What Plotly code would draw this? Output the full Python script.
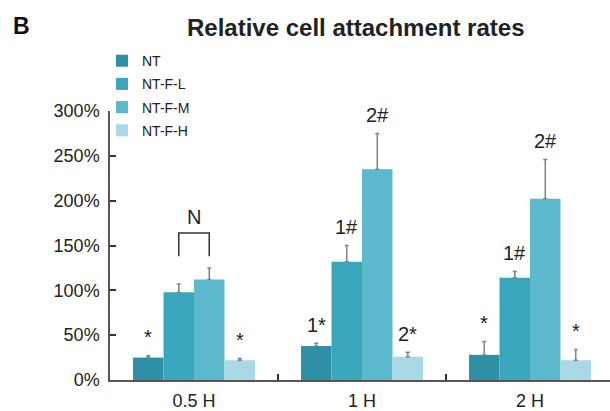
import plotly.graph_objects as go

categories = ["0.5 H", "1 H", "2 H"]
series_names = ["NT", "NT-F-L", "NT-F-M", "NT-F-H"]
values = {
    "NT": [25, 38, 28],
    "NT-F-L": [98, 132, 114],
    "NT-F-M": [112, 235, 202],
    "NT-F-H": [22, 26, 22],
}
errors = {
    "NT": [2, 3, 15],
    "NT-F-L": [9, 18, 7],
    "NT-F-M": [13, 40, 44],
    "NT-F-H": [2, 5, 12],
}
labels = {
    "NT": ["*", "1*", "*"],
    "NT-F-L": ["", "1#", "1#"],
    "NT-F-M": ["", "2#", "2#"],
    "NT-F-H": ["*", "2*", "*"],
}
colors = ["#2e8fa5", "#3aa6bd", "#5cb8cc", "#a9d9e4"]
y_ticks = [0, 50, 100, 150, 200, 250, 300]

bargap = 0.274
nser = len(series_names)
bw = (1 - bargap) / nser

fig = go.Figure()
for i, name in enumerate(series_names):
    fig.add_trace(go.Bar(
        name=name, x=categories, y=values[name], legendgroup=name,
        marker=dict(color=colors[i], line=dict(width=0)),
        error_y=dict(type="data", array=errors[name], arrayminus=[0] * len(categories),
                     symmetric=False, color="#8a7f7f", thickness=1.5, width=2),
    ))

font = "Liberation Sans, Arial, sans-serif"
annotations = []
for i, name in enumerate(series_names):
    off = (i - (nser - 1) / 2) * bw
    for j, cat in enumerate(categories):
        t = labels[name][j]
        if not t:
            continue
        annotations.append(dict(
            x=j + off, y=values[name][j] + errors[name][j] + 6, xref="x", yref="y",
            text=t, showarrow=False, yanchor="bottom",
            font=dict(family=font, size=20, color="#222")))

# "N" bracket between NT-F-L and NT-F-M at 0.5 H
x1 = 0 + (1 - 1.5) * bw
x2 = 0 + (2 - 1.5) * bw
ytop = max(values["NT-F-L"][0] + errors["NT-F-L"][0], values["NT-F-M"][0] + errors["NT-F-M"][0]) + 39
shapes = [dict(type="path", xref="x", yref="y",
               path=f"M {x1},{ytop-26} L {x1},{ytop} L {x2},{ytop} L {x2},{ytop-26}",
               line=dict(color="#333", width=1.5))]
annotations.append(dict(x=(x1 + x2) / 2, y=ytop + 3, xref="x", yref="y", text="N",
                        showarrow=False, yanchor="bottom",
                        font=dict(family=font, size=20, color="#222")))

annotations.append(dict(x=-0.177, y=1.316, xref="paper", yref="paper", text="<b>B</b>",
                        showarrow=False, xanchor="center", yanchor="middle",
                        font=dict(family=font, size=23, color="#111")))
annotations.append(dict(x=0.491, y=1.31, xref="paper", yref="paper",
                        text="<b>Relative cell attachment rates</b>",
                        showarrow=False, xanchor="center", yanchor="middle",
                        font=dict(family=font, size=24, color="#222")))

fig.update_layout(
    width=610, height=411,
    margin=dict(l=110, r=0, t=111, b=28),
    paper_bgcolor="white", plot_bgcolor="white",
    barmode="group", bargap=bargap, bargroupgap=0,
    showlegend=True,
    legend=dict(x=-0.016, y=1.245, xanchor="left", yanchor="top",
                font=dict(family=font, size=14, color="#222"),
                bgcolor="rgba(0,0,0,0)", itemwidth=30, tracegroupgap=2),
    font=dict(family=font, size=18, color="#222"),
    annotations=annotations, shapes=shapes,
    xaxis=dict(type="category", range=[-0.5, 2.476], showline=True, linecolor="#555",
               linewidth=1.5, ticks="inside", tickson="boundaries", ticklen=6,
               tickcolor="#333", tickwidth=1.5, showgrid=False, zeroline=False,
               ticklabelstandoff=4,
               tickfont=dict(family=font, size=18, color="#222")),
    yaxis=dict(range=[0, 300], tickvals=y_ticks, ticktext=[f"{v}%" for v in y_ticks],
               showline=True, linecolor="#555", linewidth=1.5, ticks="inside",
               ticklen=6, tickcolor="#333", tickwidth=1.5, showgrid=False,
               ticklabelstandoff=5,
               zeroline=False, tickfont=dict(family=font, size=18, color="#222")),
)

fig.write_html("out.html", config={"displayModeBar": False},
               post_script="document.body.style.margin='0px';")
